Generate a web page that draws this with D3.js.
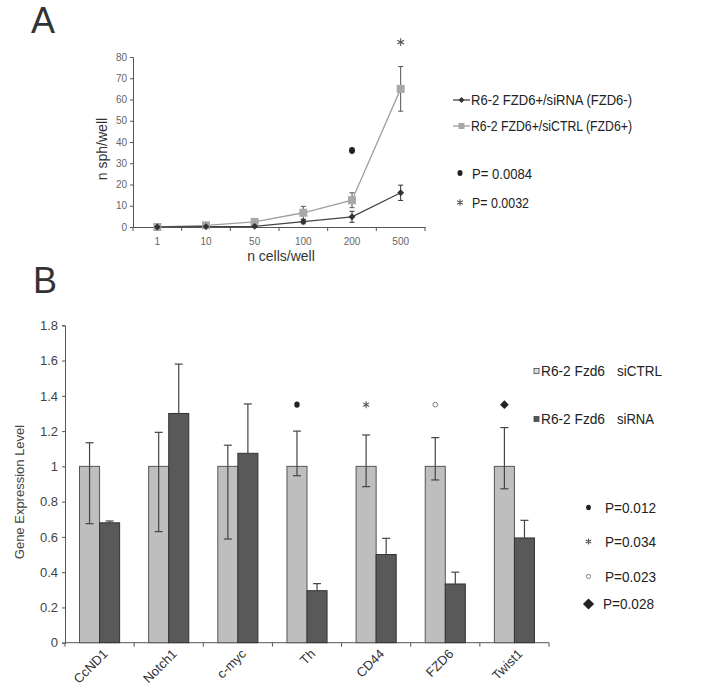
<!DOCTYPE html>
<html><head><meta charset="utf-8">
<script src="https://cdn.jsdelivr.net/npm/d3@7"></script>
<style>body{margin:0;background:#fff;} text{font-family:"Liberation Sans",Arial,sans-serif;}</style>
</head><body>
<svg id="c" width="720" height="694"></svg>
<script>
// ---- Panel A data ----
const cellCounts = ["1","10","50","100","200","500"];
const siRNA = [0, 0.2, 0.3, 2.5, 4.8, 16.1];
const siRNAErr = [0.3, 0.3, 0.4, 1.0, 2.6, 3.6];
const siCTRL = [0, 0.8, 2.4, 6.7, 12.6, 65];
const siCTRLErr = [0.3, 0.5, 0.6, 3.0, 3.5, 10.5];
const yTicksA = [0,10,20,30,40,50,60,70,80];
const legendA = ["R6-2 FZD6+/siRNA (FZD6-)", "R6-2 FZD6+/siCTRL (FZD6+)"];
const pLegendA = ["P= 0.0084", "P= 0.0032"];
const sigA = [{cat:"200", v:36, sym:"dot"}, {cat:"500", v:87, sym:"star"}];

// ---- Panel B data ----
const genes = ["CcND1","Notch1","c-myc","Th","CD44","FZD6","Twist1"];
const ctrl = [1,1,1,1,1,1,1];
const ctrlErrUp = [0.134, 0.193, 0.12, 0.20, 0.178, 0.163, 0.22];
const ctrlErrDown = [0.325, 0.37, 0.412, 0.053, 0.115, 0.077, 0.127];
const sirna = [0.68, 1.30, 1.074, 0.295, 0.50, 0.333, 0.594];
const sirnaErrUp = [0.01, 0.28, 0.28, 0.04, 0.092, 0.067, 0.10];
const yTicksB = [0,0.2,0.4,0.6,0.8,1,1.2,1.4,1.6,1.8];
const legendBName = ["R6-2 Fzd6", "R6-2 Fzd6"];
const legendBGroup = ["siCTRL", "siRNA"];
const pLegendB = ["P=0.012","P=0.034","P=0.023","P=0.028"];
const sigB = [{g:"Th",sym:"dot"},{g:"CD44",sym:"star"},{g:"FZD6",sym:"circle"},{g:"Twist1",sym:"diamond"}];
const sigBLevel = 1.35;

const svg = d3.select("#c");

function symbol(g, type, x, y, s) {
  if (type === "dot") g.append("ellipse").attr("cx",x).attr("cy",y).attr("rx",3*s).attr("ry",3.4*s).attr("fill","#222");
  else if (type === "circle") g.append("circle").attr("cx",x).attr("cy",y).attr("r",2.6*s).attr("fill","#fff").attr("stroke","#666").attr("stroke-width",0.8);
  else if (type === "diamond") g.append("path").attr("d", d3.symbol(d3.symbolDiamond2, 60*s*s)()).attr("transform",`translate(${x},${y})`).attr("fill","#222");
  else if (type === "star") g.append("path").attr("d", d3.symbol(d3.symbolAsterisk, 42*s*s)()).attr("transform",`translate(${x},${y})`).attr("fill","none").attr("stroke","#555").attr("stroke-width",1.1);
}

// ---------- Panel A ----------
svg.append("text").attr("x",31).attr("y",33).attr("font-size",36).attr("fill","#333").text("A");
const A = {left:133, right:425, top:57, bottom:227};
const xA = d3.scaleBand().domain(cellCounts).range([A.left, A.right]);
const yA = d3.scaleLinear().domain([0,80]).range([A.bottom, A.top]);
const gA = svg.append("g");
const axYA = gA.append("g").attr("transform",`translate(${A.left},0)`)
  .call(d3.axisLeft(yA).tickValues(yTicksA).tickSize(3).tickPadding(3));
axYA.selectAll("text").attr("font-size",10).attr("fill","#666");
const axXA = gA.append("g").attr("transform",`translate(0,${A.bottom})`)
  .call(d3.axisBottom(xA).tickSize(0).tickPadding(11));
axXA.selectAll("text").attr("font-size",10).attr("fill","#666");
gA.selectAll(".tA").data(d3.range(cellCounts.length+1)).enter().append("line")
  .attr("x1",i=> A.left + i*xA.step()).attr("x2",i=> A.left + i*xA.step())
  .attr("y1",A.bottom).attr("y2",A.bottom+4).attr("stroke","#555");
[axYA, axXA].forEach(a=>a.selectAll(".domain, .tick line").attr("stroke","#555"));
gA.append("text").attr("transform",`translate(107,149) rotate(-90)`).attr("text-anchor","middle").attr("font-size",14).attr("fill","#333").text("n sph/well");
gA.append("text").attr("x",281).attr("y",261).attr("text-anchor","middle").attr("font-size",14).attr("fill","#333").text("n cells/well");

const cx = d => xA(d) + xA.bandwidth()/2;
const lineA = d3.line().x((d,i)=>cx(cellCounts[i])).y(d=>yA(d));
gA.append("path").attr("d",lineA(siCTRL)).attr("fill","none").attr("stroke","#a0a0a0").attr("stroke-width",1.3);
gA.append("path").attr("d",lineA(siRNA)).attr("fill","none").attr("stroke","#444").attr("stroke-width",1.3);
function errA(vals, errs, color){
  vals.forEach((v,i)=>{
    const x = cx(cellCounts[i]);
    const e = errs[i];
    gA.append("line").attr("x1",x).attr("x2",x).attr("y1",yA(v+e)).attr("y2",yA(Math.max(0,v-e))).attr("stroke",color).attr("stroke-width",1);
    [v+e, Math.max(0,v-e)].forEach(t=> gA.append("line").attr("x1",x-2.5).attr("x2",x+2.5).attr("y1",yA(t)).attr("y2",yA(t)).attr("stroke",color).attr("stroke-width",1));
  });
}
errA(siCTRL, siCTRLErr, "#555");
errA(siRNA, siRNAErr, "#333");
siCTRL.forEach((v,i)=> gA.append("rect").attr("x",cx(cellCounts[i])-4).attr("y",yA(v)-4).attr("width",8).attr("height",8).attr("fill","#a8a8a8"));
siRNA.forEach((v,i)=> gA.append("path").attr("d",d3.symbol(d3.symbolDiamond2,30)()).attr("transform",`translate(${cx(cellCounts[i])},${yA(v)})`).attr("fill","#333"));
sigA.forEach(s=> symbol(gA, s.sym, cx(s.cat), yA(s.v), 1.0));

// legend A
const legA = svg.append("g");
legendA.forEach((t,i)=>{
  const y = 100 + i*26;
  legA.append("line").attr("x1",453).attr("x2",470).attr("y1",y).attr("y2",y).attr("stroke", i===0?"#444":"#a0a0a0").attr("stroke-width",1.3);
  if (i===0) legA.append("path").attr("d",d3.symbol(d3.symbolDiamond2,22)()).attr("transform",`translate(461.5,${y})`).attr("fill","#333");
  else legA.append("rect").attr("x",458.5).attr("y",y-3).attr("width",6).attr("height",6).attr("fill","#a8a8a8");
  legA.append("text").attr("x",471).attr("y",y+5).attr("font-size",14.5).attr("fill","#222").attr("textLength",161).attr("lengthAdjust","spacingAndGlyphs").text(t);
});
pLegendA.forEach((t,i)=>{
  const y = 173 + i*29.5;
  symbol(legA, i===0?"dot":"star", 460, y, 0.85);
  legA.append("text").attr("x",472).attr("y",y+5.5).attr("font-size",15).attr("fill","#222").attr("textLength", i===0?60:57).attr("lengthAdjust","spacingAndGlyphs").text(t);
});

// ---------- Panel B ----------
svg.append("text").attr("x",33).attr("y",293).attr("font-size",36).attr("fill","#333").text("B");
const B = {left:65, right:549, top:325.3, bottom:642.7};
const xB = d3.scaleBand().domain(genes).range([B.left, B.right]).paddingInner(0.42).paddingOuter(0.21);
const yB = d3.scaleLinear().domain([0,1.8]).range([B.bottom, B.top]);
const gB = svg.append("g");
const axYB = gB.append("g").attr("transform",`translate(${B.left},0)`)
  .call(d3.axisLeft(yB).tickValues(yTicksB).tickFormat(d=>String(+d.toFixed(1))).tickSize(3).tickPadding(4));
axYB.selectAll("text").attr("font-size",13).attr("fill","#444");
const xBoundary = d3.scaleLinear().domain([0, genes.length]).range([B.left, B.right]);
gB.append("line").attr("x1",B.left).attr("x2",B.right).attr("y1",B.bottom).attr("y2",B.bottom).attr("stroke","#555");
gB.selectAll(".tB").data(d3.range(genes.length+1)).enter().append("line")
  .attr("x1",d=>xBoundary(d)).attr("x2",d=>xBoundary(d)).attr("y1",B.bottom).attr("y2",B.bottom+4).attr("stroke","#555");
axYB.selectAll(".domain, .tick line").attr("stroke","#555");
gB.append("text").attr("transform",`translate(24,492) rotate(-90)`).attr("text-anchor","middle").attr("font-size",13).attr("fill","#444").text("Gene Expression Level");

const bw = xB.bandwidth()/2;
genes.forEach((g,i)=>{
  const x0 = xB(g);
  gB.append("rect").attr("x",x0).attr("y",yB(ctrl[i])).attr("width",bw).attr("height",yB(0)-yB(ctrl[i])).attr("fill","#bebebe").attr("stroke","#555").attr("stroke-width",1);
  gB.append("rect").attr("x",x0+bw).attr("y",yB(sirna[i])).attr("width",bw).attr("height",yB(0)-yB(sirna[i])).attr("fill","#595959").attr("stroke","#333").attr("stroke-width",1);
  const xc = x0 + bw/2, hi = ctrl[i]+ctrlErrUp[i], lo = ctrl[i]-ctrlErrDown[i];
  gB.append("line").attr("x1",xc).attr("x2",xc).attr("y1",yB(hi)).attr("y2",yB(lo)).attr("stroke","#444").attr("stroke-width",1.2);
  [hi,lo].forEach(t=> gB.append("line").attr("x1",xc-4).attr("x2",xc+4).attr("y1",yB(t)).attr("y2",yB(t)).attr("stroke","#444").attr("stroke-width",1.2));
  const xs = x0 + bw*1.5, hs = sirna[i]+sirnaErrUp[i];
  gB.append("line").attr("x1",xs).attr("x2",xs).attr("y1",yB(hs)).attr("y2",yB(sirna[i])).attr("stroke","#444").attr("stroke-width",1.2);
  gB.append("line").attr("x1",xs-4).attr("x2",xs+4).attr("y1",yB(hs)).attr("y2",yB(hs)).attr("stroke","#444").attr("stroke-width",1.2);
  const xl = xB(g) + xB.bandwidth()/2 + 9;
  gB.append("text").attr("transform",`translate(${xl},${B.bottom+12}) rotate(-45)`).attr("text-anchor","end").attr("font-size",13).attr("fill","#333").text(g);
});
sigB.forEach(s=> symbol(gB, s.sym, xB(s.g)+bw/2, yB(sigBLevel), 0.9));

// legend B
const legB = svg.append("g");
legendBName.forEach((t,i)=>{
  const y = 371 + i*48;
  legB.append("rect").attr("x",534).attr("y",y-2.5).attr("width",5).attr("height",5).attr("fill", i===0?"#ddd":"#555").attr("stroke","#444").attr("stroke-width",0.8);
  legB.append("text").attr("x",541).attr("y",y+5).attr("font-size",14).attr("fill","#222").attr("textLength",64).attr("lengthAdjust","spacingAndGlyphs").text(t);
  legB.append("text").attr("x",617).attr("y",y+5).attr("font-size",14).attr("fill","#222").attr("textLength", i===0?45:37).attr("lengthAdjust","spacingAndGlyphs").text(legendBGroup[i]);
});
const pSyms = ["dot","star","circle","diamond"];
pLegendB.forEach((t,i)=>{
  const y = [507.5, 541.5, 576.5, 604][i];
  symbol(legB, pSyms[i], 588.5, y, i===3?1.15:0.8);
  legB.append("text").attr("x",i===3?603:605).attr("y",y+5).attr("font-size",14).attr("fill","#222").attr("textLength",51).attr("lengthAdjust","spacingAndGlyphs").text(t);
});
</script>
</body></html>
